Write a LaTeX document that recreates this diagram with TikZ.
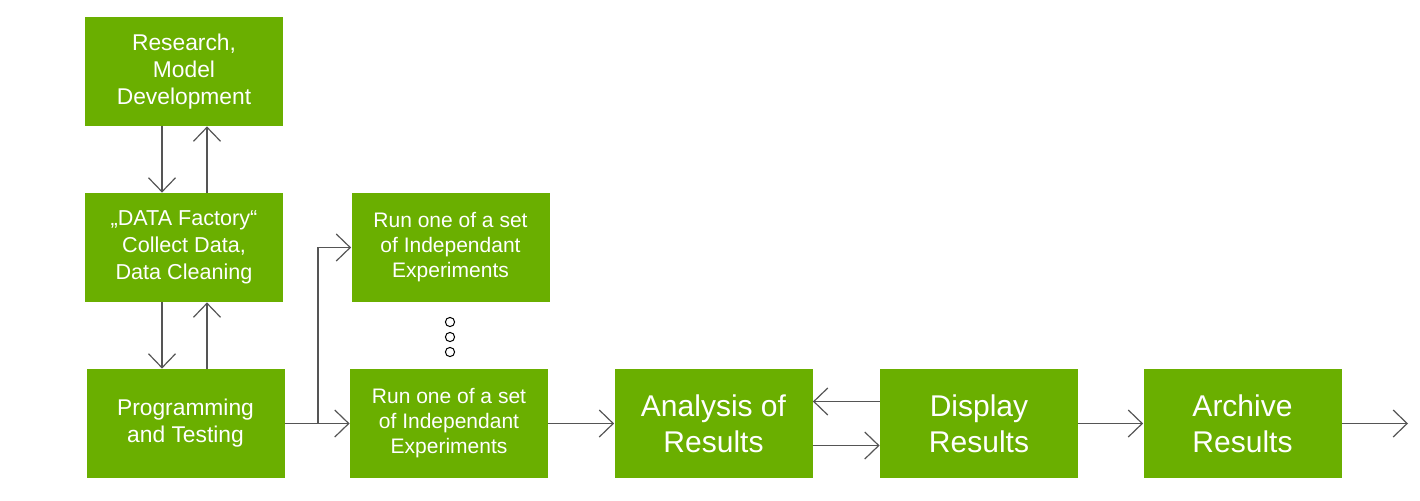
\documentclass[tikz,border=0pt]{standalone}
\usepackage{xcolor}
\usepackage{fontspec}
\setmainfont{Liberation Sans}
\usepackage{tikz}
\usetikzlibrary{calc}
\usetikzlibrary{arrows.meta}
\usetikzlibrary{positioning}
\definecolor{boxgreen}{RGB}{106,175,0}
\definecolor{linegray}{RGB}{85,85,85}
\tikzset{>={Straight Barb[length=7pt,width=13.5pt]}}
\tikzstyle{step box} = [draw=none, fill=boxgreen, text=white, align=center, inner sep=0,
  minimum width=99pt, minimum height=54.5pt, font=\fontsize{11.4}{13.5}\selectfont]
\tikzstyle{run box} = [step box, font=\fontsize{10.5}{12.5}\selectfont]
\tikzstyle{big box} = [step box, font=\fontsize{15}{18}\selectfont]
\tikzstyle{flow} = [->, draw=linegray, line width=0.6pt]

\begin{document}
\begin{tikzpicture}[x=0.5pt, y=-0.5pt]
\useasboundingbox (0, 0) rectangle (1420, 500);
\node [step box] (R) at (184, 71.5) {Research,\\Model\\Development};
\node [step box, font=\fontsize{10.8}{13.5}\selectfont] (D) at (184, 247.5) {„DATA Factory“\\Collect Data,\\Data Cleaning};
\node [step box] (P) at (185.5, 423.5) {Programming\\and Testing};
\node [run box] (E1) at (450.5, 247.5) {Run one of a set\\of Independant\\Experiments};
\node [run box] (E2) at (449, 423.5) {Run one of a set\\of Independant\\Experiments};
\node [big box] (A) at (713.5, 423.5) {Analysis of\\Results};
\node [big box] (S) at (979, 423.5) {Display\\Results};
\node [big box] (H) at (1242.5, 423.5) {Archive\\Results};
\coordinate (split) at (318, 423.5);
\coordinate (out) at (1408, 423.5);
\foreach \y in {322, 337, 352}
  \draw [draw=black, line width=0.5pt] (450, \y) circle (2.3pt);
\draw [flow] ([xshift=-11pt]R.south) to ([xshift=-11pt]D.north);
\draw [flow] ([xshift=11.5pt]D.north) to ([xshift=11.5pt]R.south);
\draw [flow] ([xshift=-11pt]D.south) to ([xshift=-11pt]D.south |- P.north);
\draw [flow] ([xshift=11.5pt]D.south |- P.north) to ([xshift=11.5pt]D.south);
\draw [flow] (P) to (E2);
\draw [flow] (split) |- (E1.west);
\draw [flow] (E2) to (A);
\draw [flow] ([yshift=11pt]S.west) to ([yshift=11pt]A.east);
\draw [flow] ([yshift=-11pt]A.east) to ([yshift=-11pt]S.west);
\draw [flow] (S) to (H);
\draw [flow] (H) to (out);
\end{tikzpicture}
\end{document}
